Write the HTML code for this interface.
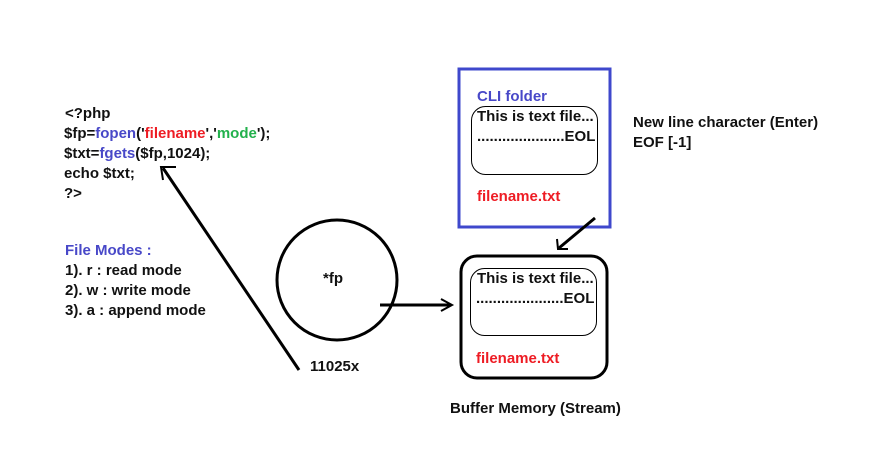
<!DOCTYPE html>
<html><head><meta charset="utf-8"><style>
body{margin:0;background:#fff;}
.w{position:relative;width:884px;height:460px;overflow:hidden;font-family:"Liberation Sans",sans-serif;font-weight:bold;font-size:15px;color:#111;}
.t{position:absolute;white-space:nowrap;}
.b{color:#4848c8}.r{color:#ee1c24}.g{color:#22b14c}
</style></head><body><div class="w">
<svg width="884" height="460" style="position:absolute;left:0;top:0">
<rect x="459" y="69" width="151" height="158" fill="none" stroke="#3f48cc" stroke-width="3"/>
<rect x="471.5" y="106.5" width="126" height="68" rx="14" fill="none" stroke="#000" stroke-width="1"/>
<rect x="461" y="256" width="146" height="122" rx="16" fill="none" stroke="#000" stroke-width="3"/>
<rect x="470.5" y="268.5" width="126" height="67" rx="14" fill="none" stroke="#000" stroke-width="1"/>
<circle cx="337" cy="280" r="60" fill="none" stroke="#000" stroke-width="3"/>
<line x1="380" y1="305" x2="451" y2="305" stroke="#000" stroke-width="3"/>
<polyline points="441,299 452,305 441,311" fill="none" stroke="#000" stroke-width="2"/>
<line x1="595" y1="218" x2="559" y2="248" stroke="#000" stroke-width="3"/>
<polyline points="557,239 558,249 568,249" fill="none" stroke="#000" stroke-width="2"/>
<line x1="299" y1="370" x2="163" y2="168" stroke="#000" stroke-width="3"/>
<polyline points="163,180 161,167 176,167" fill="none" stroke="#000" stroke-width="2"/>
</svg>
<div class="t" style="left:65px;top:105px">&lt;?php</div>
<div class="t" style="left:64px;top:125px">$fp=<span class="b">fopen</span>('<span class="r">filename</span>','<span class="g">mode</span>');</div>
<div class="t" style="left:64px;top:145px">$txt=<span class="b">fgets</span>($fp,1024);</div>
<div class="t" style="left:64px;top:165px">echo $txt;</div>
<div class="t" style="left:64px;top:185px">?&gt;</div>
<div class="t b" style="left:65px;top:242px">File Modes :</div>
<div class="t" style="left:65px;top:262px">1). r : read mode</div>
<div class="t" style="left:65px;top:282px">2). w : write mode</div>
<div class="t" style="left:65px;top:302px">3). a : append mode</div>
<div class="t" style="left:323px;top:270px">*fp</div>
<div class="t" style="left:310px;top:358px">11025x</div>
<div class="t b" style="left:477px;top:88px">CLI folder</div>
<div class="t" style="left:477px;top:108px">This is text file...</div>
<div class="t" style="left:477px;top:128px">.....................EOL</div>
<div class="t r" style="left:477px;top:188px">filename.txt</div>
<div class="t" style="left:633px;top:114px">New line character (Enter)</div>
<div class="t" style="left:633px;top:134px">EOF [-1]</div>
<div class="t" style="left:477px;top:270px">This is text file...</div>
<div class="t" style="left:476px;top:290px">.....................EOL</div>
<div class="t r" style="left:476px;top:350px">filename.txt</div>
<div class="t" style="left:450px;top:400px">Buffer Memory (Stream)</div>
</div></body></html>
